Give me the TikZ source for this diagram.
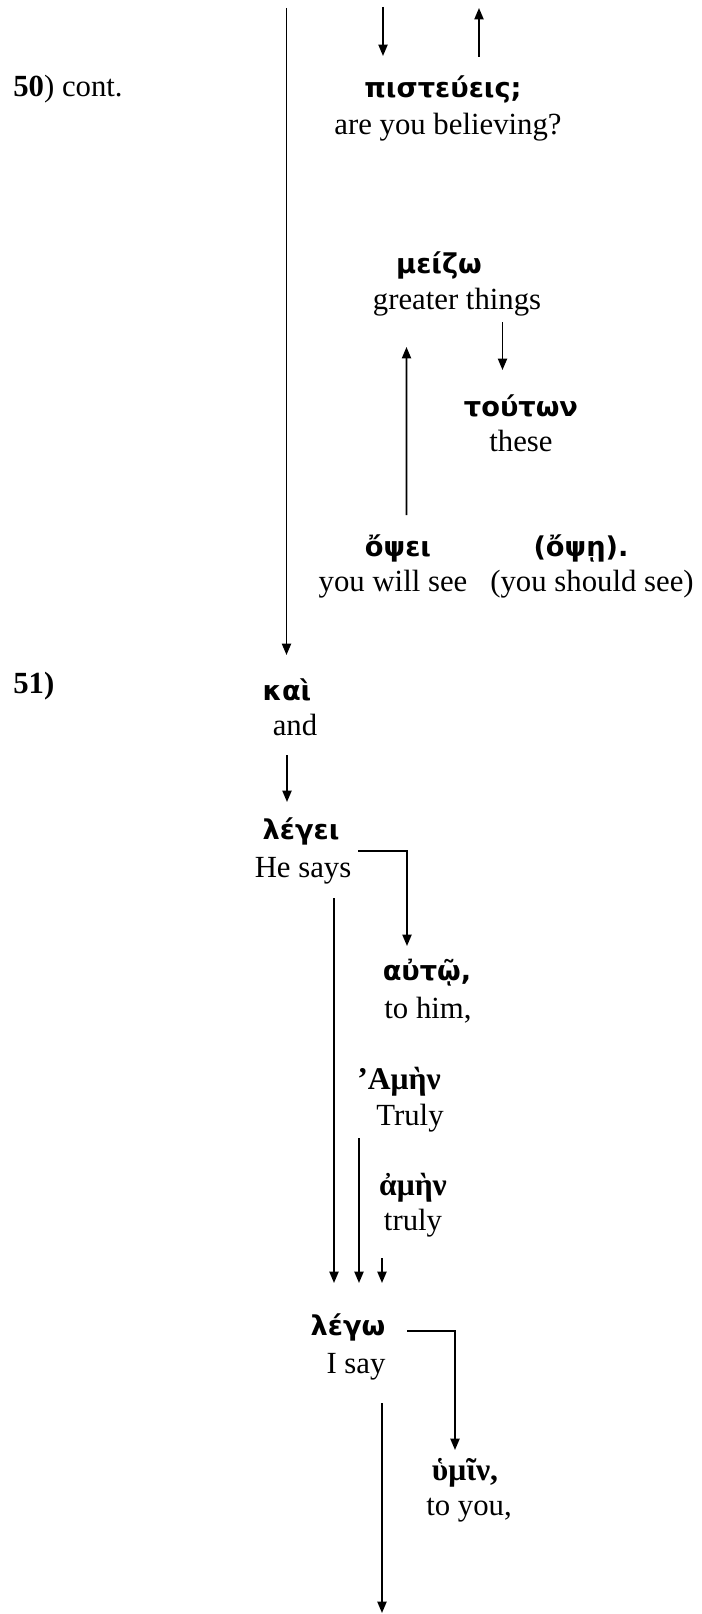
\documentclass[tikz,border=0pt]{standalone}
\usepackage{fontspec}
\setmainfont{Liberation Serif}
\newfontfamily\grksans{DejaVu Sans}
\usetikzlibrary{arrows.meta, calc}

\begin{document}
\begin{tikzpicture}[>={Triangle[length=6.5pt, width=5.2pt]},
        greek/.style={anchor=base, inner sep=0pt, font=\grksans\bfseries\fontsize{15.5}{18}\selectfont},
        greekserif/.style={anchor=base, inner sep=0pt, font=\bfseries\fontsize{18}{21}\selectfont},
        gloss/.style={anchor=base, inner sep=0pt, font=\fontsize{17.5}{21}\selectfont},
        verse/.style={anchor=base west, inner sep=0pt, font=\fontsize{17.5}{21}\selectfont},
        link/.style={->, line width=1.0pt}]
        % Page frame (701 x 1614 px at 50 px per cm)
        \useasboundingbox (0, 0) rectangle (14.02, -32.28);

        % Verse numbers
        \node[verse] (v50) at (0.26, -1.94) {\textbf{50}) cont.};
        \node[verse] (v51) at (0.26, -13.86) {\textbf{51)}};

        % Free ends at the page edges
        \coordinate (topA) at (5.73, -0.16);
        \coordinate (topB) at (7.66, -0.14);
        \coordinate (topC) at (9.58, -0.16);
        \coordinate (botA) at (7.64, -32.26);

        % Verse 50 words
        \node[greek] (pist) at (8.86, -1.96) {πιστεύεις;};
        \node[gloss] (pistG) at (8.96, -2.70) {are you believing?};
        \node[greek] (meiz) at (8.78, -5.48) {μείζω};
        \node[gloss] (meizG) at (9.14, -6.20) {greater things};
        \node[greek] (tout) at (10.42, -8.32) {τούτων};
        \node[gloss] (toutG) at (10.42, -9.02) {these};
        \node[greek] (opsei) at (7.96, -11.12) {ὄψει};
        \node[gloss] (opseiG) at (7.86, -11.82) {you will see};
        \node[greek] (opse) at (11.62, -11.12) {(ὄψῃ).};
        \node[gloss] (opseG) at (11.84, -11.82) {(you should see)};

        % Verse 51 words
        \node[greek] (kai) at (5.74, -14.00) {καὶ};
        \node[gloss] (kaiG) at (5.90, -14.70) {and};
        \node[greek] (legei) at (6.02, -16.78) {λέγει};
        \node[gloss] (legeiG) at (6.06, -17.54) {He says};
        \node[greek] (auto) at (8.54, -19.60) {αὐτῷ,};
        \node[gloss] (autoG) at (8.56, -20.36) {to him,};
        \node[greekserif] (amen1) at (7.98, -21.78) {’Αμὴν};
        \node[gloss] (amen1G) at (8.20, -22.50) {Truly};
        \node[greekserif] (amen2) at (8.26, -23.90) {ἀμὴν};
        \node[gloss] (amen2G) at (8.26, -24.60) {truly};
        \node[greek] (lego) at (6.96, -26.70) {λέγω};
        \node[gloss] (legoG) at (7.12, -27.46) {I say};
        \node[greekserif] (humin) at (9.30, -29.60) {ὑμῖν,};
        \node[gloss] (huminG) at (9.38, -30.30) {to you,};

        % Connectors of verse 50
        \draw[link] (topA) -- ([yshift=0.90cm]topA |- kai.base);
        \draw[link] (topB) -- ([yshift=0.84cm]topB |- pist.base);
        \draw[link] ([yshift=0.82cm]topC |- pist.base) -- (topC);
        \draw[link] ([xshift=0.91cm, yshift=-0.25cm]meizG.base) -- ([xshift=-0.37cm, yshift=0.92cm]tout.base);
        \draw[link] ([xshift=0.17cm, yshift=0.82cm]opsei.base) -- ([xshift=-1.01cm, yshift=-0.74cm]meizG.base);

        % Connectors of verse 51
        \draw[link] ([xshift=-0.16cm, yshift=-0.40cm]kaiG.base) -- ([xshift=-0.28cm, yshift=0.74cm]legei.base);
        \draw[link] ([xshift=1.10cm, yshift=0.52cm]legeiG.base) -| ([xshift=-0.40cm, yshift=0.68cm]auto.base);
        \draw[link] ([xshift=0.62cm, yshift=-0.42cm]legeiG.base) -- ([xshift=-0.28cm, yshift=1.04cm]lego.base);
        \draw[link] ([xshift=-1.02cm, yshift=-0.26cm]amen1G.base) -- ([xshift=0.22cm, yshift=1.04cm]lego.base);
        \draw[link] ([xshift=-0.62cm, yshift=-0.56cm]amen2G.base) -- ([xshift=0.68cm, yshift=1.04cm]lego.base);
        \draw[link] ([xshift=1.18cm, yshift=0.08cm]lego.base) -| ([xshift=-0.20cm, yshift=0.60cm]humin.base);
        \draw[link] ([xshift=0.52cm, yshift=-0.60cm]legoG.base) -- (botA);
    \end{tikzpicture}
\end{document}
